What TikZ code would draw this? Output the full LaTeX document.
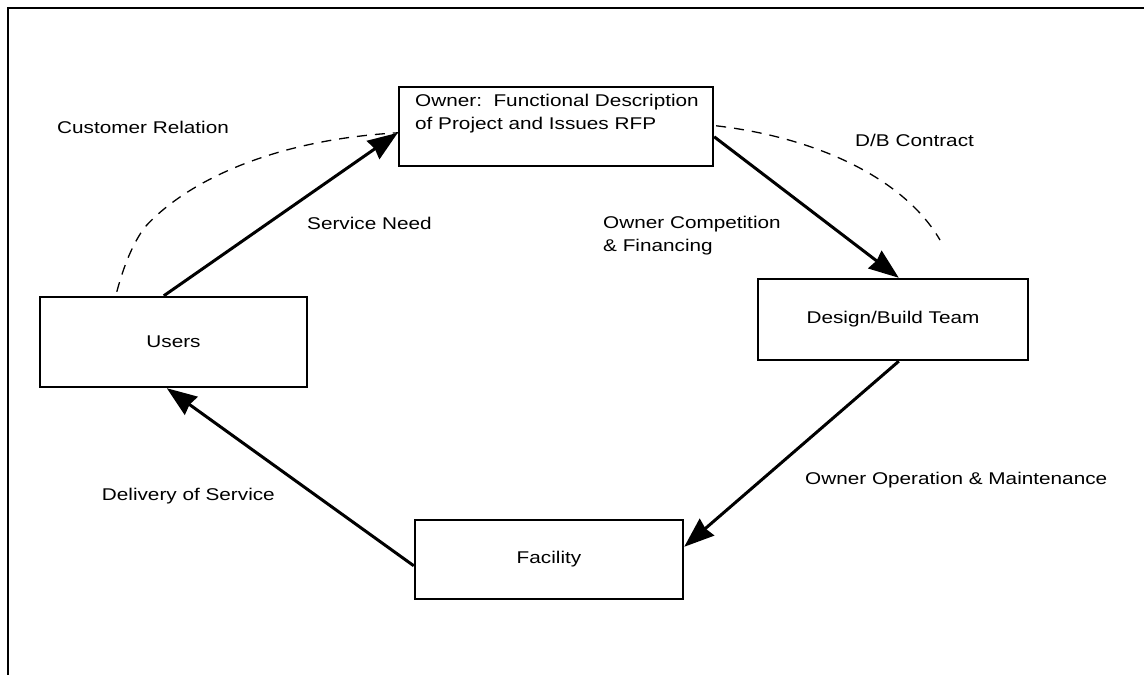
\documentclass[tikz,border=0pt]{standalone}
\usepackage{fontspec}
\setmainfont{Liberation Sans}[FakeStretch=1.22]
\usetikzlibrary{arrows.meta}
\begin{document}
\begin{tikzpicture}[x=1pt,y=-1pt,
  every node/.style={font=\fontsize{17pt}{23pt}\selectfont},
  box/.style={draw, line width=2.4pt, rectangle, inner sep=0pt},
  arr/.style={line width=3pt, -{Stealth[length=30pt,width=22pt,inset=2pt]}},
  dashline/.style={line width=1.3pt, dash pattern=on 10pt off 8pt},
  lbl/.style={inner sep=0pt, align=left}]
\useasboundingbox (0,0) rectangle (1144,675);
% frame (top and left edges)
\coordinate (ftl) at (8,8);
\coordinate (ftr) at (1144,8);
\coordinate (fbl) at (8,675);
\draw[line width=2.5pt] (ftr) -- (ftl) -- (fbl);
% boxes
\node[box, minimum width=314pt, minimum height=79pt] (owner) at (556,126.5) {};
\node[lbl, anchor=north west] (ownertext) at (415,94) {Owner:\ \ Functional Description\\of Project and Issues RFP};
\node[box, minimum width=267pt, minimum height=90pt] (users) at (173.5,342) {Users};
\node[box, minimum width=270pt, minimum height=81pt] (design) at (893,319.5) {Design/Build Team};
\node[box, minimum width=268pt, minimum height=79pt] (facility) at (549,559.5) {Facility};
% labels
\node[lbl, anchor=west] (cust) at (57,127) {Customer Relation};
\node[lbl, anchor=west] (db) at (855,140) {D/B Contract};
\node[lbl, anchor=west] (need) at (307,223) {Service Need};
\node[lbl, anchor=west] (comp) at (603,236) {Owner Competition\\\& Financing};
\node[lbl, anchor=west] (oper) at (805,480) {Owner Operation \& Maintenance};
\node[lbl, anchor=east] (deliv) at (275,496) {Delivery of Service};
% arrows
\draw[arr] ([xshift=125pt]users.north west) -- ([yshift=-47pt]owner.north west);
\draw[arr] ([yshift=-51pt]owner.north east) -- ([xshift=142pt]design.north west);
\draw[arr] ([xshift=142pt]design.south west) -- ([yshift=-28pt]facility.north east);
\draw[arr] ([yshift=-47pt]facility.north west) -- ([xshift=128pt]users.south west);
% dashed relations
\draw[dashline] ([xshift=78pt,yshift=4pt]users.north west) .. controls (124,265) and (133,243) .. (145,227)
  .. controls (185,183) and (270,140) .. ([yshift=-47pt]owner.north west);
\coordinate (dbend) at (940,240);
\draw[dashline] ([xshift=2pt,yshift=-40pt]owner.north east) .. controls (820,138) and (905,180) .. (dbend);
\end{tikzpicture}
\end{document}
